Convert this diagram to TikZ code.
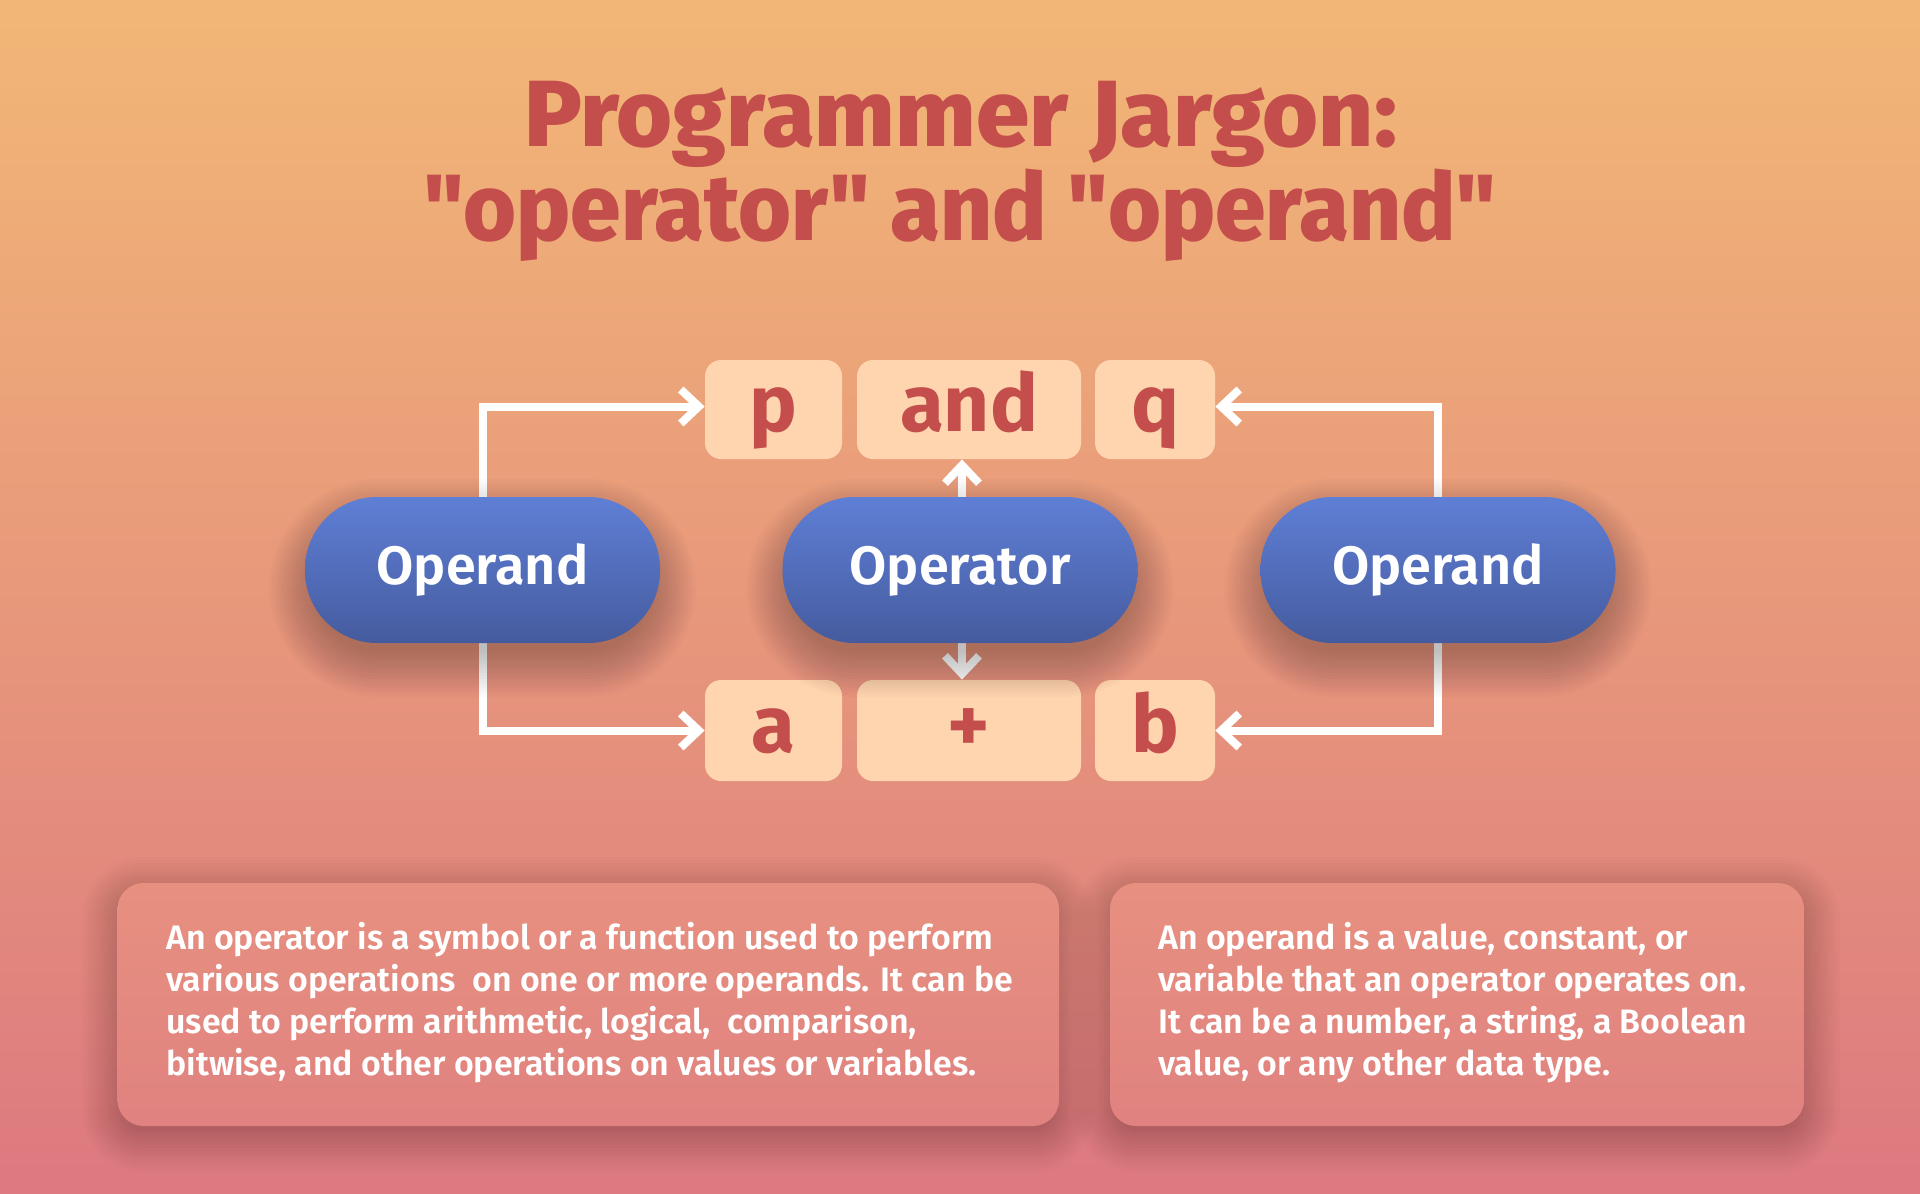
\documentclass[tikz,border=0pt]{standalone}
\usepackage{fontspec}
\setmainfont{Fira Sans}
\newfontfamily\fsemi{Fira Sans SemiBold}
\newfontfamily\fxa{Fira Sans ExtraBold}[FakeStretch=1.02]
\newfontfamily\fxb{Fira Sans ExtraBold}[FakeStretch=0.965]
\usetikzlibrary{arrows.meta}
\definecolor{bgtop}{RGB}{242,183,118}
\definecolor{bgmid}{RGB}{234,158,122}
\definecolor{bgbot}{RGB}{221,121,128}
\definecolor{titlered}{RGB}{196,78,75}
\definecolor{boxfill}{RGB}{254,213,174}
\definecolor{pilltop}{RGB}{95,127,214}
\definecolor{pillbot}{RGB}{69,91,158}
\definecolor{desctop}{RGB}{231,144,128}
\definecolor{descbot}{RGB}{224,130,128}
\begin{document}
\begin{tikzpicture}[x=0.5pt,y=-0.5pt,
  title/.style={text=titlered, inner sep=0pt, anchor=base},
  tok/.style={fill=boxfill, rounded corners=8pt, inner sep=0pt, minimum height=49.5pt,
    text=titlered, font=\bfseries\fontsize{40}{40}\selectfont, text height=30pt, text depth=8.5pt},
  pill/.style={rounded corners=36pt, minimum width=177.5pt, minimum height=73pt,
    top color=pilltop, bottom color=pillbot, draw=none, text=white,
    font=\fsemi\fontsize{27}{27}\selectfont, text height=20pt, text depth=5.5pt, inner sep=0pt},
  descbox/.style={rounded corners=13pt, top color=desctop, bottom color=descbot, draw=none,
    minimum height=121.5pt, inner sep=0pt},
  desctext/.style={text=white, font=\fsemi\fontsize{16.95}{21}\selectfont, align=left, inner sep=0pt, anchor=north west},
  conn/.style={draw=white, line width=4pt, -{Straight Barb[length=9pt,width=17pt]}},
  shadowlayer/.style={fill=black, fill opacity=#1, draw=none}
]
\shade[top color=bgtop, middle color=bgmid, bottom color=bgbot] (0,0) rectangle (1920,1193);
\useasboundingbox (0,0) rectangle (1920,1193);

\node[title, font=\fxa\fontsize{47}{50}\selectfont] (t1) at (961,147) {Programmer Jargon:};
\node[title, font=\fxb\fontsize{47}{50}\selectfont] (t2) at (960,240) {"operator" and "operand"};

\node[tok, minimum width=68.5pt] (p) at (773.5,409.5) {p};
\node[tok, minimum width=112pt] (and) at (969,409.5) {and};
\node[tok, minimum width=60pt] (q) at (1155,409.5) {q};
\node[tok, minimum width=68.5pt, minimum height=50.5pt] (a) at (773.5,730.5) {a};
\node[tok, minimum width=112pt, minimum height=50.5pt] (plus) at (969,730.5) {+};
\node[tok, minimum width=60pt, minimum height=50.5pt] (b) at (1155,730.5) {b};

% centres of the three pills (connectors start there, hidden under the pills)
\coordinate (cL) at (482.5,570);
\coordinate (cC) at (962,570);
\coordinate (cR) at (1438,570);

\draw[conn] (cL) |- ([yshift=1.5pt]p.west);
\draw[conn] (cL) |- (a.west);
\draw[conn] (cR) |- ([yshift=1.5pt]q.east);
\draw[conn] (cR) |- (b.east);
\draw[conn] (cC) -- (cC |- and.south);
\draw[conn] (cC) -- (cC |- plus.north);

% soft shadows under the pills
\foreach \cx in {482.5,960,1438}{
  \foreach \d in {-9,-6,...,36}{
    \pgfmathsetmacro\rr{(73+\d)/2}
    \fill[shadowlayer=0.016, rounded corners=\rr pt]
      (\cx-177.5-\d, 588-73-\d) rectangle (\cx+177.5+\d, 588+73+\d);
  }
}

\node[pill] (opL) at (cL) {Operand};
\node[pill] (opC) at (960,570) {Operator};
\node[pill] (opR) at (cR) {Operand};

% soft shadows under the description boxes
\foreach \xa/\xb in {117.5/1059,1110/1804}{
  \foreach \d in {-6,-3,...,36}{
    \pgfmathsetmacro\rr{(26+\d)/2}
    \fill[shadowlayer=0.011, rounded corners=\rr pt]
      (\xa-\d, 893-\d) rectangle (\xb+\d, 1136+\d);
  }
}

\node[descbox, minimum width=470.75pt] (d1) at (588.25,1004.5) {};
\node[descbox, minimum width=347pt] (d2) at (1457,1004.5) {};
\node[desctext] (d1t) at (166,922) {An operator is a symbol or a function used to perform\\various operations\ \ on one or more operands. It can be\\used to perform arithmetic, logical,\ \ comparison,\\bitwise, and other operations on values or variables.};
\node[desctext] (d2t) at (1158,922) {An operand is a value, constant, or\\variable that an operator operates on.\\It can be a number, a string, a Boolean\\value, or any other data type.};
\end{tikzpicture}
\end{document}
